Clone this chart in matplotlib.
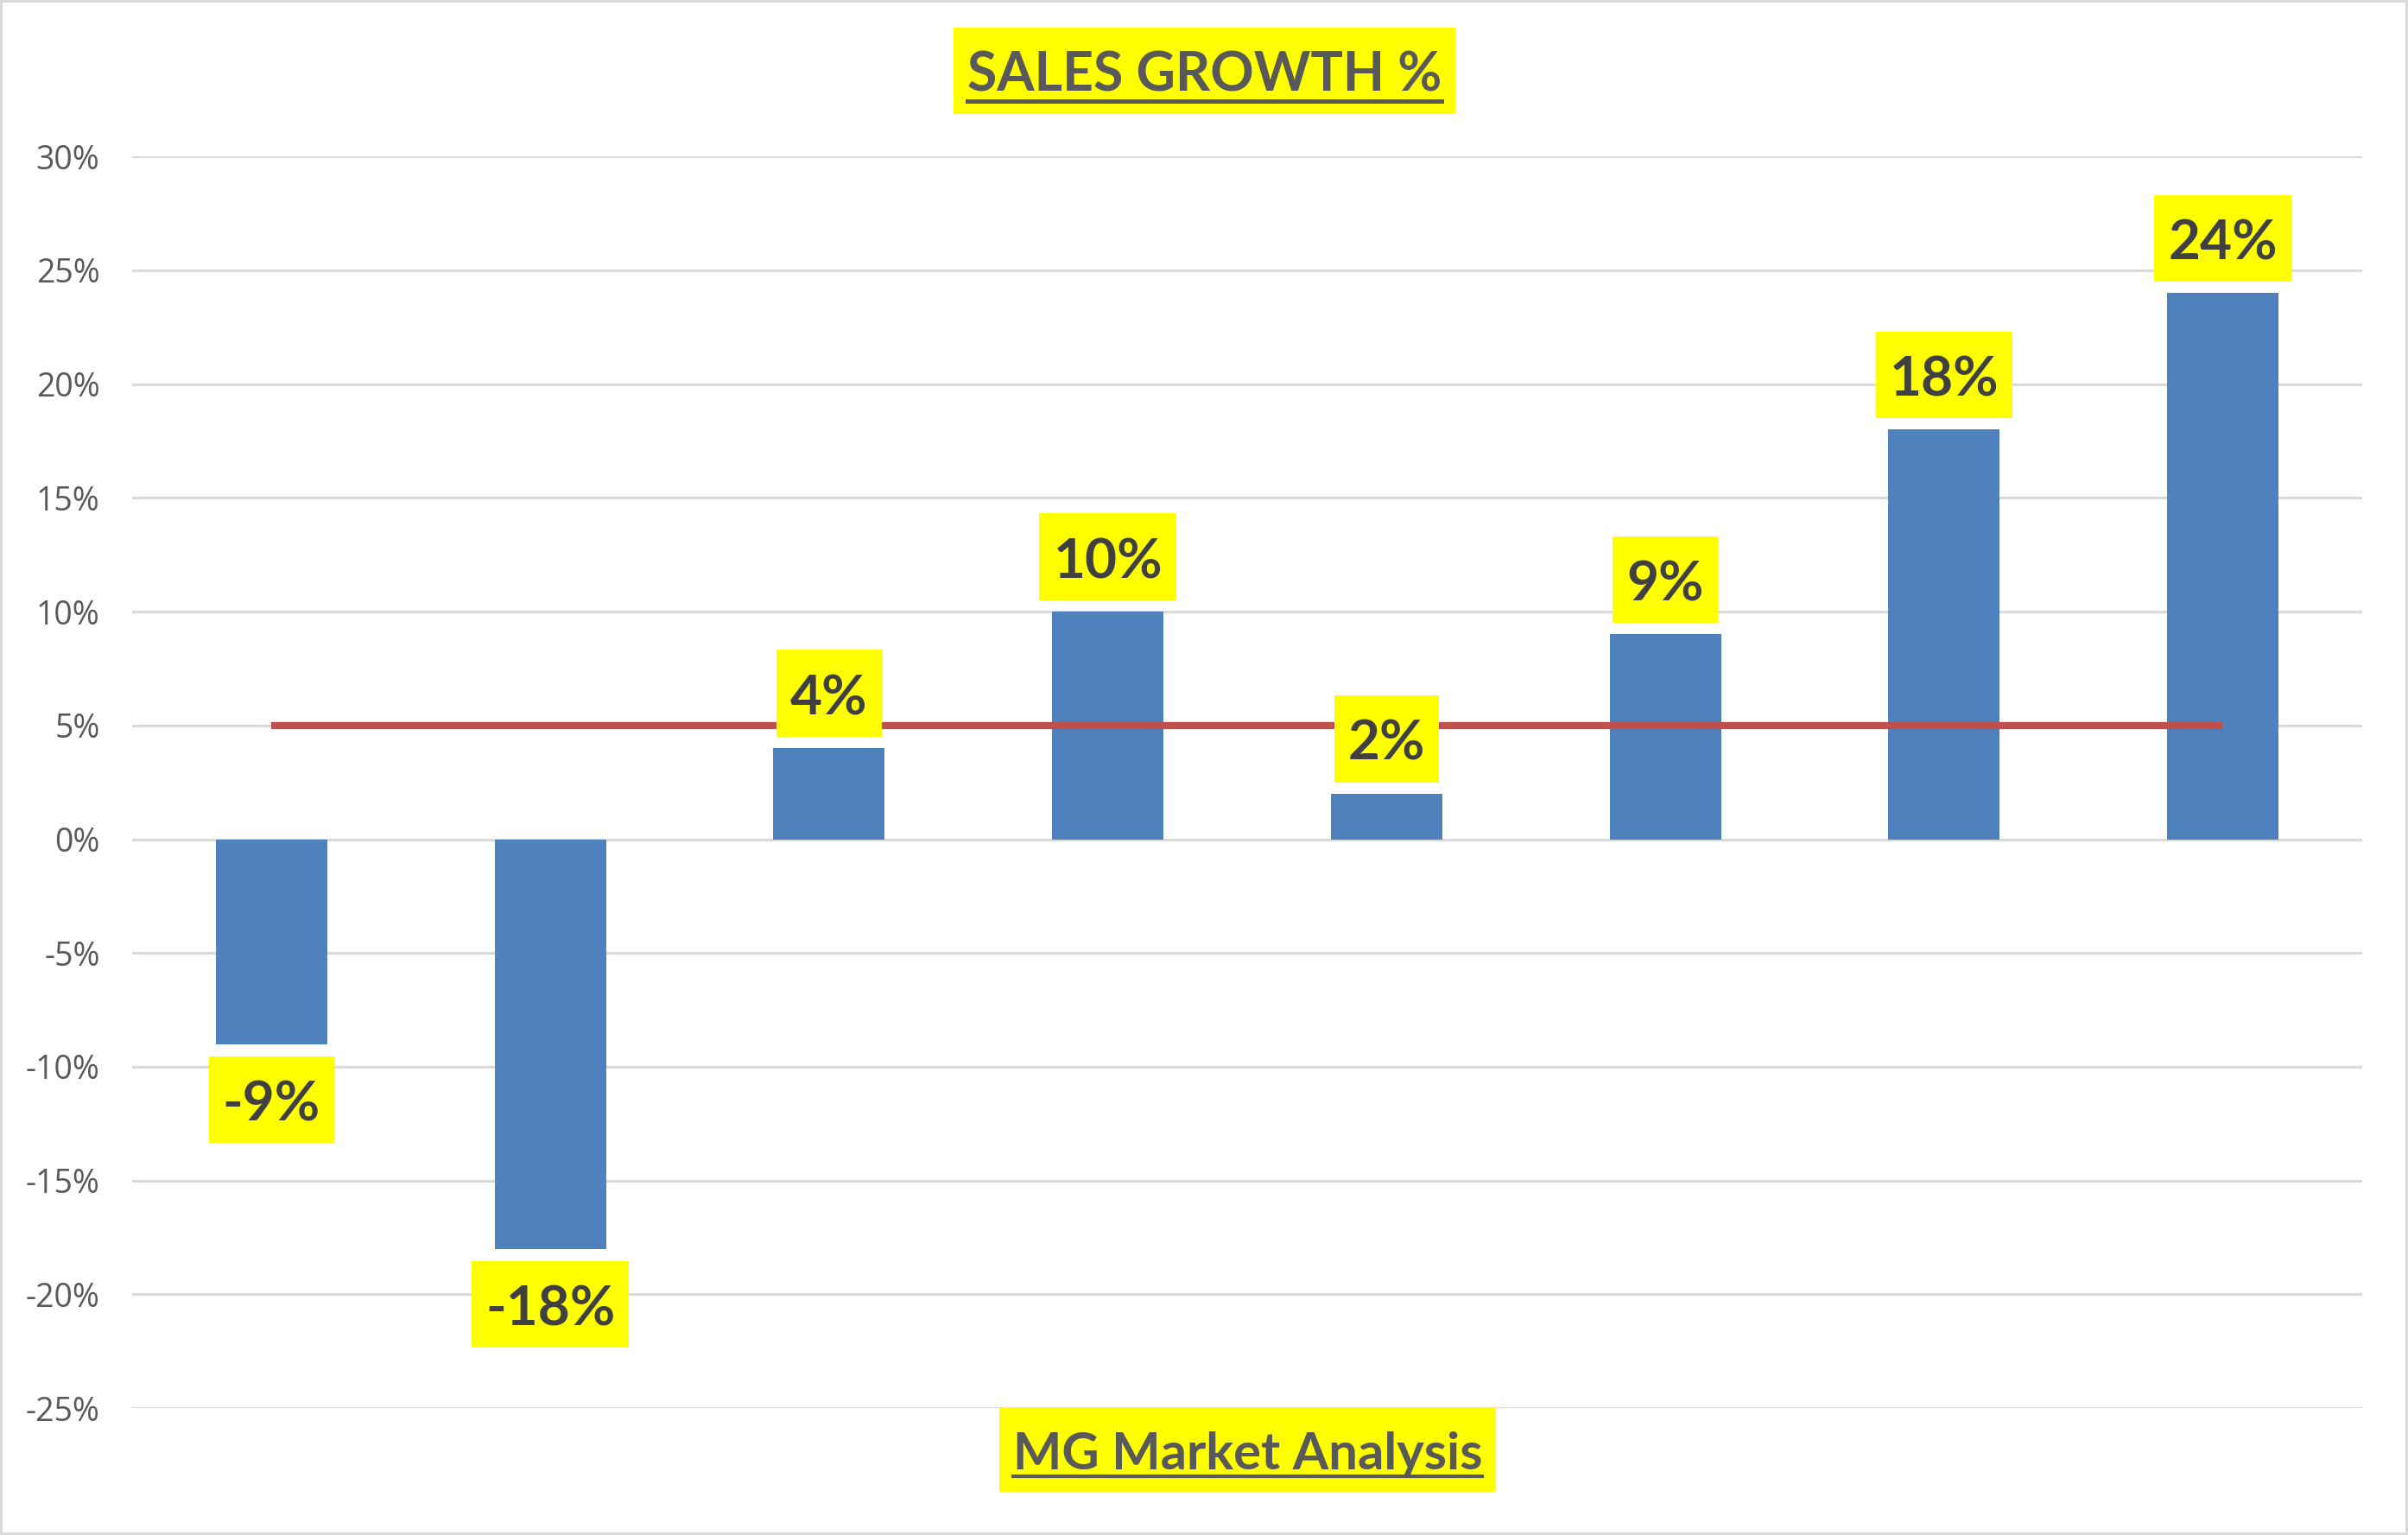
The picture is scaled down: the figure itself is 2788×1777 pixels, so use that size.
import matplotlib
matplotlib.use("Agg")
import matplotlib.pyplot as plt
from matplotlib.lines import Line2D
from matplotlib.patches import Rectangle
from matplotlib.ticker import FuncFormatter

# data
categories = ["P1", "P2", "P3", "P4", "P5", "P6", "P7", "P8"]
growth = [-9, -18, 4, 10, 2, 9, 18, 24]
target = [5, 5, 5, 5, 5, 5, 5, 5]
y_ticks = [-25, -20, -15, -10, -5, 0, 5, 10, 15, 20, 25, 30]

BAR_COLOR = "#4F81BD"
LINE_COLOR = "#C0504D"
GRID_COLOR = "#D9D9D9"
YELLOW = "#FFFF00"
CAP = 0.7165  # Lato cap height / em

fig = plt.figure(figsize=(27.88, 17.77), dpi=100)
fig.patch.set_edgecolor(GRID_COLOR)
fig.patch.set_linewidth(4)
ax = fig.add_axes([0.0549, 0.0827, 0.9261, 0.8153])
W = fig.get_figwidth() * fig.dpi
H = fig.get_figheight() * fig.dpi

x = list(range(len(categories)))
ax.bar(x, growth, width=0.4, color=BAR_COLOR, zorder=2)
ax.plot(x, target, color=LINE_COLOR, linewidth=6, zorder=3, solid_capstyle="butt")

ax.set_xlim(-0.5, len(categories) - 0.5)
ax.set_ylim(-25, 30)
ax.set_yticks(y_ticks)
ax.yaxis.set_major_formatter(FuncFormatter(lambda v, p: f"{v:.0f}%"))
ax.set_xticks([])
ax.grid(axis="y", color=GRID_COLOR, linewidth=2.2, zorder=0)
ax.tick_params(axis="y", length=0, pad=27, labelsize=27, labelcolor="#595959")
for lbl in ax.get_yticklabels():
    lbl.set_fontfamily("Open Sans")
for s in ax.spines.values():
    s.set_visible(False)

# data labels (baseline placed in pixels relative to the bar end)
LBL_FS = 46
cap_px = CAP * LBL_FS * fig.dpi / 72
labels = []
for xi, v in zip(x, growth):
    off = 39 if v >= 0 else -(14 + 29 + cap_px)
    t = ax.annotate(f"{v}%", (xi, v), xytext=(0, off), textcoords="offset pixels",
                    ha="center", va="baseline", fontsize=LBL_FS, fontweight="bold",
                    color="#404040", family="Lato", zorder=6)
    labels.append(t)

# title and footer
title = fig.text(0.5002, 0.94035, "SALES GROWTH %", ha="center", va="baseline",
                 fontsize=45, fontweight="bold", color="#595959", family="Lato", zorder=5)
footer = fig.text(0.5181, 0.04277, "MG Market Analysis", ha="center", va="baseline",
                  fontsize=43, fontweight="bold", color="#595959", family="Lato", zorder=5)

fig.canvas.draw()
r = fig.canvas.get_renderer()


def box_px(t, base_px, fs):
    bb = t.get_window_extent(r)
    cap = CAP * fs * fig.dpi / 72
    return bb.x0 - 16, base_px - 26, bb.x1 + 16, base_px + cap + 29


# yellow boxes behind data labels (in data coords)
inv = ax.transData.inverted()
for t in labels:
    base = ax.transData.transform(t.xy)[1] + t.xyann[1]
    x0, y0, x1, y1 = box_px(t, base, LBL_FS)
    (dx0, dy0), (dx1, dy1) = inv.transform([(x0, y0), (x1, y1)])
    ax.add_patch(Rectangle((dx0, dy0), dx1 - dx0, dy1 - dy0, fc=YELLOW, ec="none", zorder=5))

# yellow boxes and underlines for title/footer
for t, fs, gap, lw in [(title, 45, 11, 3.6), (footer, 43, 8, 3.0)]:
    base = t.get_position()[1] * H
    x0, y0, x1, y1 = box_px(t, base, fs)
    fig.add_artist(Rectangle((x0 / W, y0 / H), (x1 - x0) / W, (y1 - y0) / H,
                             transform=fig.transFigure, fc=YELLOW, ec="none", zorder=1))
    bb = t.get_window_extent(r)
    yl = (base - gap) / H
    fig.add_artist(Line2D([bb.x0 / W, bb.x1 / W], [yl, yl], transform=fig.transFigure,
                          color="#595959", linewidth=lw, zorder=6))

fig.savefig("out.png", dpi=100, facecolor="white", edgecolor=fig.patch.get_edgecolor())
